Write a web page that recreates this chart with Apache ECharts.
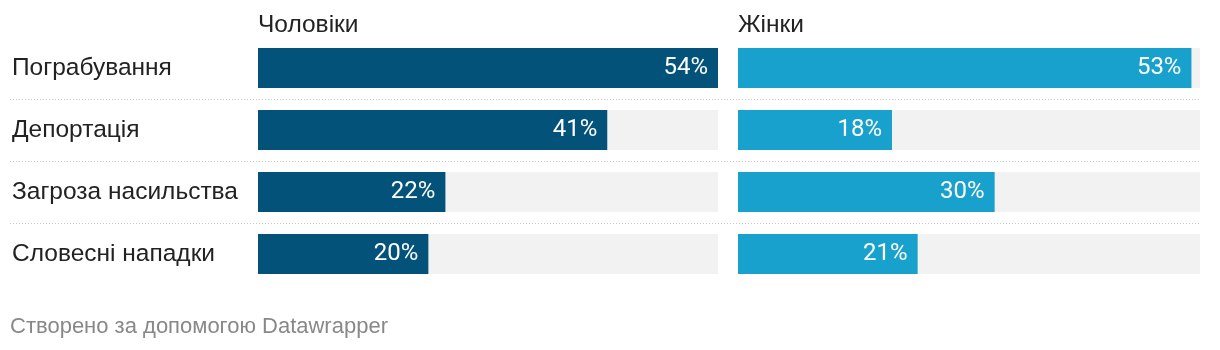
<!DOCTYPE html>
<html>
<head>
<meta charset="utf-8">
<script src="https://cdn.jsdelivr.net/npm/echarts@6/dist/echarts.min.js"></script>
<style>
html,body{margin:0;padding:0;background:#fff;}
#chart{width:1220px;height:350px;}
</style>
</head>
<body>
<div id="chart"></div>
<script>
const categories = ['Пограбування', 'Депортація', 'Загроза насильства', 'Словесні нападки'];
const menValues = [54, 41, 22, 20];
const womenValues = [53, 18, 30, 21];
const panelTitles = ['Чоловіки', 'Жінки'];
const footerText = 'Створено за допомогою Datawrapper';
const scaleMax = 54;

const TXT = '"Liberation Sans", Arial, sans-serif';
const NUM = 'Roboto';
const chart = echarts.init(document.getElementById('chart'), null, {renderer: 'canvas'});

const labelCfg = {
  show: true,
  position: 'insideRight',
  distance: 10,
  color: '#fff',
  fontFamily: NUM,
  fontSize: 24,
  formatter: p => p.value + '%'
};

chart.setOption({
  animation: false,
  title: [
    {text: panelTitles[0], left: 253, top: 8, textStyle: {fontFamily: TXT, fontSize: 24.5, fontWeight: 'normal', color: '#222'}},
    {text: panelTitles[1], left: 733, top: 8, textStyle: {fontFamily: TXT, fontSize: 24.5, fontWeight: 'normal', color: '#222'}},
    {text: footerText, left: 5, top: 311, textStyle: {fontFamily: TXT, fontSize: 22, fontWeight: 'normal', color: '#888'}}
  ],
  grid: [
    {left: 258, width: 460, top: 37, height: 248},
    {left: 738, width: 462, top: 37, height: 248},
    {left: 10, width: 1190, top: 99, height: 124}
  ],
  xAxis: [
    {type: 'value', gridIndex: 0, min: 0, max: scaleMax, show: false},
    {type: 'value', gridIndex: 1, min: 0, max: scaleMax, show: false},
    {type: 'value', gridIndex: 2, min: 0, max: 1, show: false}
  ],
  yAxis: [
    {type: 'category', gridIndex: 0, data: categories, inverse: true,
     axisLine: {show: false}, axisTick: {show: false}, splitLine: {show: false},
     axisLabel: {align: 'left', margin: 246, color: '#222', fontFamily: TXT, fontSize: 24.5}},
    {type: 'category', gridIndex: 1, data: categories, inverse: true, show: false},
    {type: 'value', gridIndex: 2, min: 0, max: 2, interval: 1,
     axisLine: {show: false}, axisTick: {show: false}, axisLabel: {show: false},
     splitLine: {show: true, lineStyle: {color: '#c8c8c8', width: 1, type: [1, 2]}}}
  ],
  series: [
    {type: 'bar', xAxisIndex: 0, yAxisIndex: 0, data: menValues, barWidth: 40,
     itemStyle: {color: '#03527a'}, showBackground: true,
     backgroundStyle: {color: '#f2f2f2'}, label: labelCfg},
    {type: 'bar', xAxisIndex: 1, yAxisIndex: 1, data: womenValues, barWidth: 40,
     itemStyle: {color: '#19a1cd'}, showBackground: true,
     backgroundStyle: {color: '#f2f2f2'}, label: labelCfg}
  ]
});
</script>
</body>
</html>
